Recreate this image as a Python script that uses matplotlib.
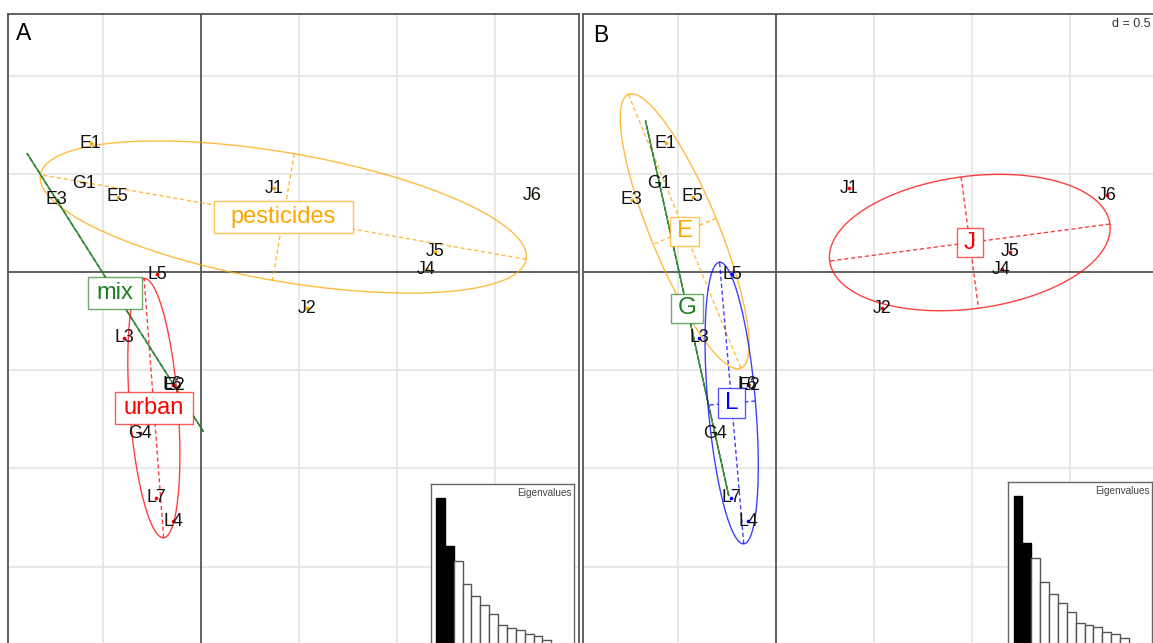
import numpy as np
import matplotlib
matplotlib.use("Agg")
import matplotlib.pyplot as plt
from matplotlib.path import Path
from matplotlib.colors import to_rgba

plt.rcParams['font.family'] = ['Liberation Sans', 'DejaVu Sans']

W, H, DPI = 1153, 643, 100

# ---------------- data ----------------
sample_names = ["E1", "E2", "E3", "E5", "G1", "G4", "J1", "J2", "J4", "J5", "J6",
                "L3", "L4", "L5", "L6", "L7"]
axis1 = [-0.563, -0.138, -0.737, -0.426, -0.595, -0.312, 0.371, 0.541, 1.151, 1.192, 1.689,
         -0.391, -0.142, -0.225, -0.144, -0.229]
axis2 = [0.659, -0.575, 0.370, 0.387, 0.455, -0.820, 0.430, -0.183, 0.016, 0.106, 0.395,
         -0.333, -1.268, -0.009, -0.572, -1.149]
habitat = ["pesticides", "mix", "mix", "pesticides", "pesticides", "urban",
           "pesticides", "pesticides", "pesticides", "pesticides", "pesticides",
           "urban", "urban", "urban", "urban", "urban"]
stage = [n[0] for n in sample_names]

habitat_levels = ["pesticides", "mix", "urban"]
stage_levels = ["E", "G", "J", "L"]

eigenvalues = [1.517, 1.043, 0.893, 0.660, 0.540, 0.450, 0.357, 0.247, 0.223, 0.203,
               0.160, 0.140, 0.100]
n_kept_axes = 2

grid_step = 0.5
cellipse = 1.5

# ---------------- styles ----------------
habitat_colors = {"pesticides": "#FFA500", "mix": "#1E7B1E", "urban": "#FF0000"}
stage_colors = {"E": "#FFA500", "G": "#1E7B1E", "J": "#FF0000", "L": "#0000FF"}
habitat_padx = {"pesticides": 17, "mix": 8.5, "urban": 8.8}
stage_padx = {"E": 6.3, "G": 6.3, "J": 6.8, "L": 6.6}

x = np.array(axis1)
y = np.array(axis2)

fig = plt.figure(figsize=(W / DPI, H / DPI), dpi=DPI)
fig.patch.set_facecolor("white")

SCALE = 196.0  # px per unit
ORIGIN_Y = 272.5


def px_axes(left, right, top, bottom):
    return fig.add_axes([left / W, 1 - bottom / H, (right - left) / W, (bottom - top) / H])


def make_box(padx, boxh):
    def box(x0, y0, width, height, mutation_size):
        cx = x0 + width / 2
        cy = y0 + height / 2
        hw = width / 2 + padx
        hh = boxh / 2
        return Path([(cx - hw, cy - hh), (cx + hw, cy - hh), (cx + hw, cy + hh),
                     (cx - hw, cy + hh), (cx - hw, cy - hh)], closed=True)
    return box


def panel(left, right, origin_x):
    ax = px_axes(left, right, 14, 700)
    ax.set_xlim((left - origin_x) / SCALE, (right - origin_x) / SCALE)
    ax.set_ylim((ORIGIN_Y - 700) / SCALE, (ORIGIN_Y - 14) / SCALE)
    ax.set_xticks([])
    ax.set_yticks([])
    for s in ax.spines.values():
        s.set_color("#555555")
        s.set_linewidth(1.3)
    x0, x1 = ax.get_xlim()
    y0, y1 = ax.get_ylim()
    for gx in np.arange(np.ceil(x0 / grid_step), np.floor(x1 / grid_step) + 1) * grid_step:
        if abs(gx) > 1e-9:
            ax.axvline(gx, color="#E6E6E6", lw=1.3, zorder=0)
    for gy in np.arange(np.ceil(y0 / grid_step), np.floor(y1 / grid_step) + 1) * grid_step:
        if abs(gy) > 1e-9:
            ax.axhline(gy, color="#E6E6E6", lw=1.3, zorder=0)
    ax.axvline(0, color="#555555", lw=1.3, zorder=0.5)
    ax.axhline(0, color="#555555", lw=1.3, zorder=0.5)
    return ax


def draw_class(ax, groups, levels, colors, padx, fsize, boxh):
    groups = np.array(groups)
    centers = {}
    t = np.linspace(0, 2 * np.pi, 300)
    for lev in levels:
        col = colors[lev]
        lcol = to_rgba(col, 0.75)
        idx = np.where(groups == lev)[0]
        P = np.column_stack([x[idx], y[idx]])
        m = P.mean(axis=0)
        centers[lev] = m
        C = (P - m).T @ (P - m) / len(P)
        vals, vecs = np.linalg.eigh(C)
        vals = np.clip(vals, 0, None)
        r = cellipse * np.sqrt(vals)
        E = m + np.outer(np.cos(t), r[1] * vecs[:, 1]) + np.outer(np.sin(t), r[0] * vecs[:, 0])
        ax.plot(E[:, 0], E[:, 1], color=lcol, lw=1.0, zorder=2)
        for k in range(2):
            a = m - r[k] * vecs[:, k]
            b = m + r[k] * vecs[:, k]
            ax.plot([a[0], b[0]], [a[1], b[1]], color=lcol, lw=1.0, ls=(0, (3, 2)), zorder=2)
        ax.scatter(x[idx], y[idx], s=7, color=col, zorder=3, linewidths=0)
    for xi, yi, name in zip(x, y, sample_names):
        ax.text(xi, yi, name, ha="center", va="center", fontsize=12.8, color="#111111", zorder=4)
    for lev in levels:
        col = colors[lev]
        m = centers[lev]
        ax.text(m[0], m[1], lev, ha="center", va="center",
                fontsize=fsize, color=col, zorder=5,
                bbox=dict(boxstyle=make_box(padx[lev], boxh), facecolor="white",
                          edgecolor=to_rgba(col, 0.65), lw=1.0))


def eig_inset(left, right, top, bottom):
    ia = px_axes(left, right, top, bottom)
    ia.set_facecolor("white")
    pos = np.arange(len(eigenvalues))
    fc = ["black" if i < n_kept_axes else "white" for i in pos]
    ec = ["black" if i < n_kept_axes else "#555555" for i in pos]
    ia.bar(pos, eigenvalues, width=1.0, color=fc, edgecolor=ec, lw=1.0)
    ia.set_xlim(-1.1, 15.1)
    ia.set_ylim(0, 1.66)
    ia.set_xticks([])
    ia.set_yticks([])
    for s in ia.spines.values():
        s.set_color("#666666")
        s.set_linewidth(1.0)
    ia.text(0.98, 0.975, "Eigenvalues", transform=ia.transAxes, ha="right", va="top",
            fontsize=7.2, color="#444444")
    return ia


# Panel A
axA = panel(8, 579, 201)
draw_class(axA, habitat, habitat_levels, habitat_colors, habitat_padx, 17, 32)
fig.text(16 / W, 1 - 39.5 / H, "A", fontsize=16.5, color="black", va="baseline", ha="left")

# Panel B
axB = panel(583, 1160, 776)
draw_class(axB, stage, stage_levels, stage_colors, stage_padx, 17.5, 29.5)
fig.text(593 / W, 1 - 41.5 / H, "B", fontsize=16.5, color="black", va="baseline", ha="left")
fig.text(1151 / W, 1 - 24 / H, "d = 0.5", fontsize=9, color="#333333", va="center", ha="right")

eig_inset(430.7, 574.3, 484, 650)
eig_inset(1008.3, 1152, 481.7, 647.7)

fig.savefig("out.png", dpi=DPI, facecolor="white")
